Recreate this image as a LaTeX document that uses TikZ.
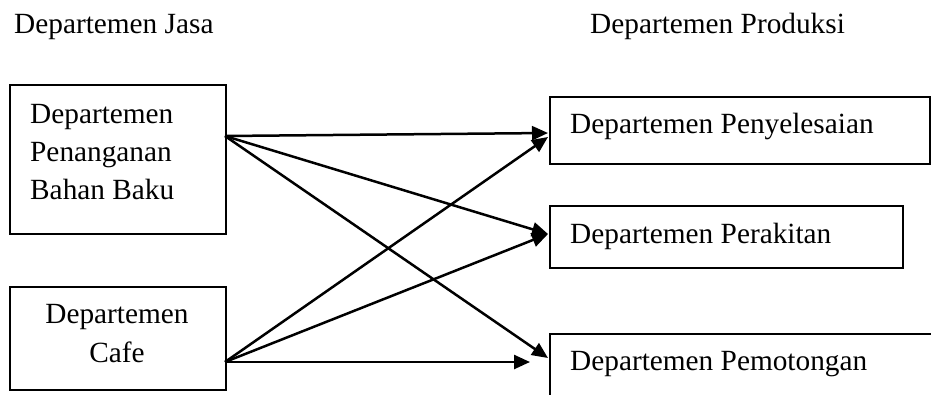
\documentclass[tikz,border=0pt]{standalone}
\usepackage{fontspec}
\setmainfont{Liberation Serif}
\usetikzlibrary{arrows.meta}
\begin{document}
\begin{tikzpicture}[x=1pt,y=-1pt,
  box/.style={draw,line width=2.2pt,inner sep=0pt,anchor=north west},
  txt/.style={inner sep=0pt,font=\fontsize{29.3}{38}\selectfont},
  conn/.style={line width=2.5pt,-{Triangle[length=16pt,width=14pt]}}]
\useasboundingbox (0,0) rectangle (931,394);
\clip (0,0) rectangle (931,394);
% headers
\node[txt,anchor=base west] (hjasa) at (14,33) {Departemen Jasa};
\node[txt,anchor=base west] (hprod) at (590,33) {Departemen Produksi};
% left boxes
\node[box,minimum width=216pt,minimum height=149pt] (bb) at (9,84) {};
\node[txt,anchor=base west] (bb1) at (30,123) {Departemen};
\node[txt,anchor=base west] (bb2) at (30,161) {Penanganan};
\node[txt,anchor=base west] (bb3) at (30,199) {Bahan Baku};
\node[box,minimum width=216pt,minimum height=103pt] (cafe) at (9,286) {};
\node[txt,anchor=base] (cf1) at (117,323) {Departemen};
\node[txt,anchor=base] (cf2) at (117,362) {Cafe};
% right boxes
\node[box,minimum width=380pt,minimum height=67pt] (pny) at (549,96) {};
\node[txt,anchor=base west] (pnyt) at (570,133) {Departemen Penyelesaian};
\node[box,minimum width=353pt,minimum height=62pt] (prk) at (549,205) {};
\node[txt,anchor=base west] (prkt) at (570,243) {Departemen Perakitan};
\node[box,minimum width=400pt,minimum height=100pt] (pmt) at (549,333) {};
\node[txt,anchor=base west] (pmtt) at (570,370) {Departemen Pemotongan};
% connector anchors
\coordinate (sb) at (225,136);
\coordinate (sc) at (225,362);
\coordinate (t1a) at (548,133);
\coordinate (t1b) at (548,137);
\coordinate (t2) at (548,234);
\coordinate (t3) at (548,358);
\coordinate (t3c) at (530,362);
\draw[conn] (sb) -- (t1a);
\draw[conn] (sb) -- (t2);
\draw[conn] (sb) -- (t3);
\draw[conn] (sc) -- (t1b);
\draw[conn] (sc) -- (t2);
\draw[conn] (sc) -- (t3c);
\end{tikzpicture}
\end{document}
